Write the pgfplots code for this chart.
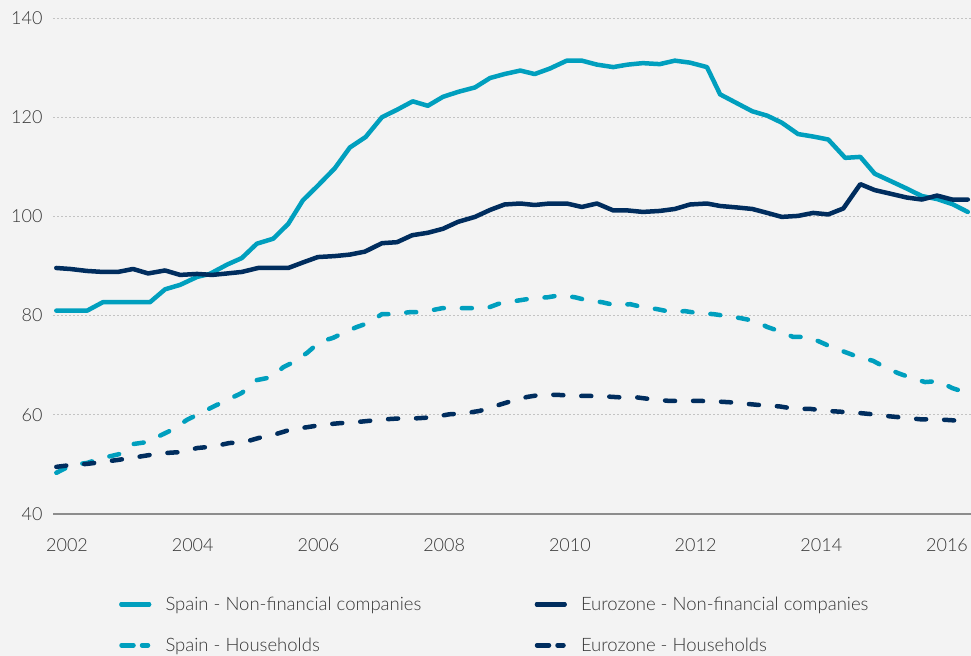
\documentclass[border=0pt]{standalone}
\usepackage{pgfplots}
\pgfplotsset{compat=1.18}
\usepackage{fontspec}
\setmainfont{Lato}[UprightFont=* Light]
\definecolor{bg}{RGB}{243,243,243}
\definecolor{teal1}{RGB}{0,159,190}
\definecolor{navy1}{RGB}{0,45,94}
\definecolor{txt}{RGB}{55,55,55}
\definecolor{gridc}{RGB}{195,195,195}
\definecolor{axc}{RGB}{140,140,140}

\pgfplotsset{
  solidleg/.style={legend image code/.code={\path (0bp,0bp) -- (27.5bp,0bp); \draw[##1,line cap=round] (0bp,0bp) -- (27.5bp,0bp);}},
  dashleg/.style={legend image code/.code={\path (0bp,0bp) -- (27.5bp,0bp); \draw[##1, dash pattern=on 6bp off 8.5bp, line cap=round] (6bp,0bp) -- (26.5bp,0bp);}},
}

\pgfplotstableread{
x y
2001.83 81.0
2002.08 81.0
2002.32 81.0
2002.57 82.7
2002.81 82.7
2003.05 82.7
2003.32 82.7
2003.56 85.3
2003.80 86.2
2004.07 87.8
2004.27 88.4
2004.55 90.3
2004.78 91.6
2005.02 94.5
2005.28 95.5
2005.52 98.5
2005.75 103.2
2005.99 106.2
2006.26 109.7
2006.50 113.9
2006.75 116.0
2007.01 120.0
2007.25 121.5
2007.50 123.2
2007.74 122.3
2007.98 124.1
2008.22 125.1
2008.49 126.0
2008.73 127.9
2008.96 128.7
2009.21 129.4
2009.44 128.7
2009.68 129.8
2009.95 131.4
2010.19 131.4
2010.43 130.6
2010.69 130.1
2010.92 130.6
2011.16 130.9
2011.43 130.7
2011.67 131.4
2011.91 131.0
2012.18 130.1
2012.39 124.6
2012.66 122.8
2012.90 121.2
2013.14 120.3
2013.37 118.9
2013.63 116.6
2013.87 116.1
2014.11 115.5
2014.38 111.8
2014.62 112.0
2014.85 108.6
2015.09 107.2
2015.36 105.6
2015.60 104.1
2015.84 103.5
2016.08 102.5
2016.33 100.9
}\spainnfc

\pgfplotstableread{
x y
2001.83 89.6
2002.05 89.4
2002.32 89.0
2002.57 88.8
2002.81 88.8
2003.05 89.4
2003.29 88.5
2003.56 89.1
2003.80 88.2
2004.07 88.4
2004.31 88.2
2004.55 88.5
2004.78 88.8
2005.04 89.6
2005.28 89.6
2005.52 89.6
2005.75 90.7
2005.99 91.8
2006.26 92.0
2006.50 92.3
2006.74 92.9
2007.01 94.6
2007.25 94.8
2007.49 96.2
2007.74 96.7
2007.98 97.5
2008.22 98.9
2008.49 99.9
2008.73 101.3
2008.96 102.4
2009.21 102.6
2009.44 102.3
2009.68 102.6
2009.95 102.6
2010.19 101.9
2010.43 102.6
2010.69 101.2
2010.92 101.2
2011.16 100.9
2011.43 101.1
2011.67 101.5
2011.91 102.4
2012.18 102.6
2012.39 102.1
2012.66 101.8
2012.90 101.5
2013.14 100.7
2013.37 99.9
2013.63 100.1
2013.87 100.7
2014.11 100.4
2014.35 101.6
2014.62 106.5
2014.85 105.3
2015.09 104.6
2015.36 103.8
2015.60 103.4
2015.84 104.2
2016.08 103.4
2016.33 103.4
}\euronfc

\pgfplotstableread{
x y
2001.83 48.3
2002.08 49.9
2002.32 50.3
2002.57 51.3
2002.84 52.1
2003.05 54.1
2003.27 54.5
2003.53 56.1
2003.69 57.1
2003.91 59.0
2004.12 60.3
2004.32 61.6
2004.55 63.0
2004.78 64.4
2005.02 67.0
2005.26 67.6
2005.44 69.6
2005.60 70.6
2005.82 72.5
2006.02 74.7
2006.23 75.5
2006.39 76.5
2006.61 77.7
2006.79 78.5
2007.01 80.3
2007.19 80.3
2007.46 80.7
2007.65 80.7
2007.97 81.5
2008.20 81.5
2008.46 81.5
2008.68 81.5
2008.89 82.5
2009.21 83.1
2009.41 83.5
2009.65 83.7
2009.84 84.1
2010.08 83.7
2010.27 83.1
2010.51 82.7
2010.72 82.1
2010.96 82.3
2011.16 81.7
2011.39 81.3
2011.62 80.7
2011.83 80.9
2012.04 80.5
2012.28 80.3
2012.50 79.9
2012.71 79.5
2012.95 78.9
2013.14 77.7
2013.37 76.7
2013.55 75.7
2013.79 75.7
2013.98 74.7
2014.19 73.5
2014.41 72.5
2014.62 71.5
2014.82 70.9
2015.04 69.4
2015.22 68.4
2015.44 67.4
2015.65 66.6
2015.86 66.8
2016.08 65.4
2016.32 64.4
}\spainhh

\pgfplotstableread{
x y
2001.83 49.5
2002.08 49.9
2002.32 50.1
2002.57 50.5
2002.81 50.9
2003.07 51.4
2003.32 51.9
2003.57 52.3
2003.83 52.5
2004.07 53.3
2004.32 53.6
2004.58 54.3
2004.82 54.5
2005.07 55.4
2005.32 56.1
2005.58 57.1
2005.82 57.5
2006.07 58.0
2006.33 58.3
2006.58 58.5
2006.82 58.8
2007.07 59.1
2007.33 59.3
2007.57 59.3
2007.82 59.5
2008.08 60.1
2008.33 60.3
2008.57 60.8
2008.82 61.8
2009.08 62.8
2009.32 63.6
2009.57 64.1
2009.83 64.0
2010.08 63.8
2010.32 63.8
2010.57 63.7
2010.82 63.5
2011.07 63.5
2011.32 63.1
2011.58 62.8
2011.83 62.8
2012.07 62.8
2012.32 62.7
2012.58 62.5
2012.82 62.2
2013.07 61.9
2013.33 61.7
2013.58 61.2
2013.82 61.2
2014.07 60.8
2014.33 60.6
2014.57 60.4
2014.82 60.1
2015.08 59.7
2015.33 59.4
2015.57 59.1
2015.82 59.1
2016.08 58.9
2016.33 58.7
}\eurohh

\begin{document}
\begin{tikzpicture}
\fill[bg] (0,0) rectangle (971bp,656bp);
\begin{axis}[
  at={(53bp,142bp)}, anchor=south west,
  scale only axis, width=918bp, height=496bp,
  xmin=2001.777, xmax=2016.381, ymin=40, ymax=140,
  xtick={2002,2004,...,2016}, ytick={40,60,...,140},
  major tick length=0pt,
  axis x line*=bottom, axis y line*=left,
  x axis line style={draw=axc, line width=1.1bp, -},
  y axis line style={draw=none},
  ymajorgrids, grid style={draw=gridc, line width=0.9bp, dash pattern=on 1.5bp off 2.5bp},
  /pgf/number format/assume math mode=true,
  /pgf/number format/1000 sep={},
  scaled ticks=false,
  tick label style={font=\fontsize{18bp}{20bp}\selectfont, text=txt},
  xticklabel style={yshift=-21bp},
  yticklabel style={xshift=-7bp},
  legend columns=2,
  legend style={draw=none, fill=none, inner sep=0pt, outer sep=0pt,
    at={(0.07217,-0.167)}, anchor=north west,
    nodes={inner sep=0pt, outer sep=0pt},
    column sep=14.25bp, row sep=26bp,
    font=\fontsize{18.5bp}{20bp}\selectfont, text=txt},
  legend cell align=left,
  solidleg,
  every axis plot/.append style={line width=4.5bp, line join=round, line cap=round},
]
\addplot[teal1, no markers] table[x=x,y=y] {\spainnfc};
\addlegendentry{\makebox[355bp][l]{Spain - Non-financial companies}}
\addplot[navy1, no markers] table[x=x,y=y] {\euronfc};
\addlegendentry{Eurozone - Non-financial companies}
\addplot[teal1, no markers, dash pattern=on 10bp off 18bp, dashleg] table[x=x,y=y] {\spainhh};
\addlegendentry{\makebox[355bp][l]{Spain - Households}}
\addplot[navy1, no markers, dash pattern=on 10bp off 18bp, dashleg] table[x=x,y=y] {\eurohh};
\addlegendentry{Eurozone - Households}
\end{axis}
\pgfresetboundingbox
\path (0,0) rectangle (971bp,656bp);
\end{tikzpicture}
\end{document}
